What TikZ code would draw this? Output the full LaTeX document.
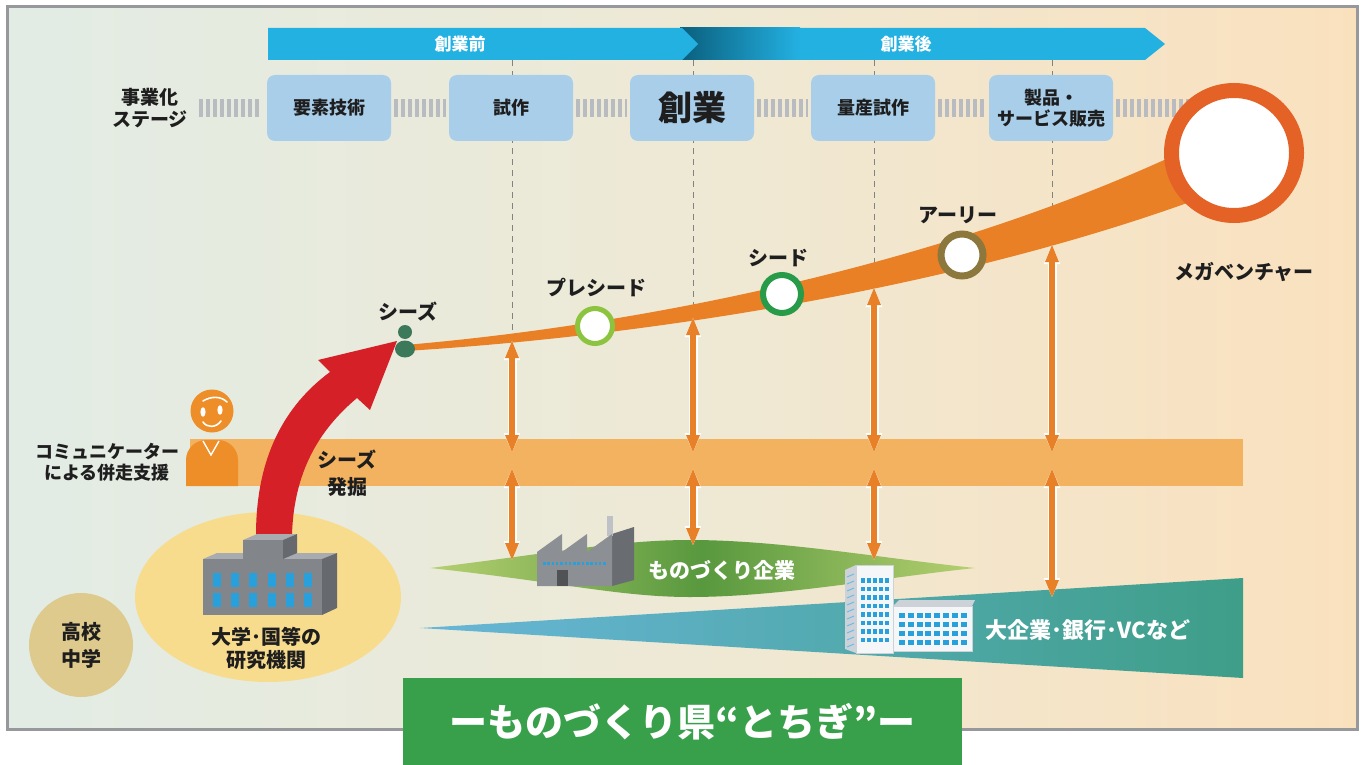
\documentclass[tikz,border=0pt]{standalone}
\usepackage{fontspec}
\setmainfont{Noto Sans CJK JP}
\usetikzlibrary{arrows.meta,shapes.geometric,calc}

\definecolor{bgL}{RGB}{226,236,229}
\definecolor{bgM}{RGB}{238,233,213}
\definecolor{bgR}{RGB}{250,225,190}
\definecolor{framegray}{RGB}{150,152,155}
\definecolor{ink}{RGB}{30,30,30}
\definecolor{phasecyan}{RGB}{35,177,226}
\definecolor{phasedark}{RGB}{10,95,125}
\definecolor{stageblue}{RGB}{168,206,234}
\definecolor{stripegray}{RGB}{184,188,192}
\definecolor{guidegray}{RGB}{130,130,130}
\definecolor{curveor}{RGB}{233,128,38}
\definecolor{megaor}{RGB}{228,98,38}
\definecolor{bandor}{RGB}{243,178,96}
\definecolor{personor}{RGB}{238,142,40}
\definecolor{arrowor}{RGB}{232,128,40}
\definecolor{ringlight}{RGB}{140,196,64}
\definecolor{ringgreen}{RGB}{40,155,72}
\definecolor{ringolive}{RGB}{140,120,60}
\definecolor{seedgreen}{RGB}{60,120,90}
\definecolor{lensL}{RGB}{182,208,112}
\definecolor{lensM}{RGB}{88,152,62}
\definecolor{wedgeL}{RGB}{104,182,216}
\definecolor{wedgeR}{RGB}{62,158,136}
\definecolor{uniyellow}{RGB}{248,220,142}
\definecolor{schooltan}{RGB}{222,202,140}
\definecolor{redarrow}{RGB}{214,32,40}
\definecolor{bldfront}{RGB}{130,133,137}
\definecolor{bldside}{RGB}{102,105,109}
\definecolor{bldtop}{RGB}{168,171,175}
\definecolor{factfront}{RGB}{140,143,147}
\definecolor{factside}{RGB}{105,108,112}
\definecolor{factlight}{RGB}{190,193,197}
\definecolor{factdark}{RGB}{80,82,86}
\definecolor{winblue}{RGB}{40,160,220}
\definecolor{officewhite}{RGB}{245,246,248}
\definecolor{officeside}{RGB}{205,210,216}
\definecolor{bannergreen}{RGB}{56,160,74}

\begin{document}
\begin{tikzpicture}[x=1pt,y=-1pt,
  stagebox/.style={fill=stageblue, rounded corners=8pt, minimum width=124pt,
    minimum height=66pt, inner sep=2pt, align=center, text=ink,
    font=\bfseries\fontsize{18}{21}\selectfont},
  stripe/.style={draw=stripegray, line width=18pt, dash pattern=on 4pt off 3pt},
  guide/.style={draw=guidegray, line width=0.9pt, dash pattern=on 6pt off 5pt},
  lbl/.style={text=ink, align=center, font=\bfseries\fontsize{20}{24}\selectfont},
  ontext/.style={text=white, font=\bfseries\fontsize{21}{25}\selectfont},
  phasetext/.style={text=white, font=\bfseries\fontsize{17}{20}\selectfont},
  ring/.style={circle, fill=white, inner sep=0pt},
  linkback/.style={draw=white, line width=9pt,
    {Triangle[length=19pt,width=16pt,line width=2pt]}-{Triangle[length=19pt,width=16pt,line width=2pt]}},
  link/.style={draw=arrowor, line width=6pt,
    {Triangle[length=17pt,width=14pt,line width=0pt]}-{Triangle[length=17pt,width=14pt,line width=0pt]}}
]
\useasboundingbox (0,0) rectangle (1362,765);
\fill[white] (0,0) rectangle (1362,765);

% panel background and frame
\shade[left color=bgL, right color=bgR, middle color=bgM] (7,7) rectangle (1357,729);
\draw[framegray, line width=3pt] (7,7) rectangle (1357,729);

% phase arrow: before / after founding
\fill[phasecyan] (680,28) -- (1145,28) -- (1165,44) -- (1145,60) -- (680,60) -- cycle;
\shade[left color=phasedark, right color=phasecyan] (680,28) rectangle (800,60);
\fill[phasecyan] (268,28) -- (682,28) -- (698,44) -- (682,60) -- (268,60) -- cycle;
\node[phasetext] (before) at (460,44) {創業前};
\node[phasetext] (after) at (906,44) {創業後};

% vertical guides
\draw[guide] (512,60) -- (512,334);
\draw[guide] (693,60) -- (693,306);
\draw[guide] (874,60) -- (874,266);
\draw[guide] (1052,60) -- (1052,210);

% stage row
\node[lbl, font=\bfseries\fontsize{19}{22}\selectfont] (stagelbl) at (150,108) {事業化\\ステージ};
\node[stagebox] (s1) at (329,108) {要素技術};
\node[stagebox] (s2) at (511,108) {試作};
\node[stagebox, font=\bfseries\fontsize{34}{36}\selectfont] (s3) at (692,108) {創業};
\node[stagebox] (s4) at (873,108) {量産試作};
\node[stagebox] (s5) at (1051,108) {製品・\\サービス販売};
\coordinate (st0) at (199,108);
\coordinate (st6) at (1190,108);
\draw[stripe] (st0) -- ([xshift=-5pt]s1.west);
\draw[stripe] ([xshift=3pt]s1.east) -- ([xshift=-3pt]s2.west);
\draw[stripe] ([xshift=3pt]s2.east) -- ([xshift=-3pt]s3.west);
\draw[stripe] ([xshift=3pt]s3.east) -- ([xshift=-3pt]s4.west);
\draw[stripe] ([xshift=3pt]s4.east) -- ([xshift=-3pt]s5.west);
\draw[stripe] ([xshift=3pt]s5.east) -- (st6);

% support band
\fill[bandor] (190,439) rectangle (1243,486);
\node[lbl, font=\bfseries\fontsize{20}{27}\selectfont] (dig) at (347,473) {シーズ\\発掘};

% communicator figure
\fill[personor] (186,486) -- (186,460) .. controls (186,449) and (195,440) .. (206,440)
  -- (218,440) .. controls (229,440) and (238,449) .. (238,460) -- (238,486) -- cycle;
\node[circle, fill=personor, minimum size=43pt, inner sep=0pt] (head) at (212,411) {};
\fill[white] (203,412) ellipse [x radius=2.6pt, y radius=4.8pt];
\fill[white] (220,410) ellipse [x radius=2.6pt, y radius=4.8pt];
\draw[white, line width=1.6pt, line cap=round] (203,422) .. controls (207,428) and (216,428) .. (221,421);
\draw[white, line width=1.6pt, line cap=round] (203,401) .. controls (211,396) and (221,396) .. (227,402);
\draw[white, line width=1.4pt] (203,441) -- (211,455) -- (219,441);
\node[lbl, font=\bfseries\fontsize{18}{21}\selectfont] (comm) at (107,462) {コミュニケーター\\による併走支援};

% growth curve, widening towards the mega venture
\fill[curveor] (405,345) .. controls (650,324) and (950,262) .. (1190,148)
  -- (1190,202) .. controls (950,288) and (650,336) .. (405,351) -- cycle;

% seeds figure
\node[circle, fill=seedgreen, minimum size=14pt, inner sep=0pt] (seedhead) at (405,332) {};
\node[ellipse, fill=seedgreen, minimum width=20pt, minimum height=17pt, inner sep=0pt] (seedbody) at (405,349) {};
\node[lbl] (seedlbl) at (408,312) {シーズ};

% stage milestones
\node[ring, draw=ringlight, line width=5pt, minimum size=35pt] (preseed) at (595,326) {};
\node[ring, draw=ringgreen, line width=6pt, minimum size=38pt] (seed) at (782,294) {};
\node[ring, draw=ringolive, line width=7pt, minimum size=42pt] (early) at (962,255) {};
\node[ring, draw=megaor, line width=15pt, minimum size=125pt] (mega) at (1234,153) {};
\node[lbl] (preseedlbl) at (596,288) {プレシード};
\node[lbl] (seedlbl2) at (778,258) {シード};
\node[lbl] (earlylbl) at (958,215) {アーリー};
\node[lbl] (megalbl) at (1244,272) {メガベンチャー};

% manufacturing companies
\shade[left color=lensL, right color=lensL, middle color=lensM]
  (430,568) .. controls (560,552) and (620,540) .. (690,540)
  .. controls (780,540) and (880,558) .. (975,568)
  .. controls (880,578) and (780,597) .. (690,597)
  .. controls (620,597) and (560,582) .. cycle;
\node[ontext] (mono) at (722,570) {ものづくり企業};

% large companies, banks, VCs
\shade[left color=wedgeL, right color=wedgeR] (420,628) -- (1243,578) -- (1243,678) -- cycle;
\node[ontext, font=\bfseries\fontsize{22}{26}\selectfont] (corp) at (1088,630) {大企業･銀行･VCなど};

% factory
\fill[factside] (612,534) -- (634,527) -- (634,580) -- (612,586) -- cycle;
\fill[factlight] (607,516) rectangle (613,536);
\fill[factfront] (537,586) -- (537,552) -- (562,534) -- (562,552) -- (587,534) -- (587,552)
  -- (612,534) -- (612,586) -- cycle;
\draw[winblue, line width=3pt, dash pattern=on 2.5pt off 1.8pt] (543,563) -- (606,563);
\fill[factdark] (557,570) rectangle (568,586);

% office buildings
\fill[officeside] (845,570) -- (856,565) -- (856,653) -- (845,649) -- cycle;
\foreach \j in {0,...,10} \draw[winblue!70, line width=1pt] (847,{577+\j*7}) -- (854,{574+\j*7});
\fill[officewhite] (856,565) rectangle (893,653);
\draw[officeside, line width=0.6pt] (856,565) rectangle (893,653);
\foreach \i in {0,...,4} \foreach \j in {0,...,7}
  \fill[winblue] ({861+\i*6},{578+\j*8.5}) rectangle +(4,4.5);
\fill[officeside] (893,606) -- (899,600) -- (975,600) -- (972,606) -- cycle;
\fill[officewhite] (893,606) rectangle (972,651);
\draw[officeside, line width=0.6pt] (893,606) rectangle (972,651);
\foreach \i in {0,...,7} \foreach \j in {0,...,3}
  \fill[winblue] ({899+\i*8.8},{613+\j*9}) rectangle +(6,4.5);

% links between the curve, the support band and the partners
\foreach \k/\x/\ya/\yb in {1/512/341/560, 2/693/318/545, 3/874/288/560, 4/1052/245/597} {
  \coordinate (u\k) at (\x,\ya);
  \coordinate (m\k) at (\x,452);
  \coordinate (n\k) at (\x,469);
  \coordinate (d\k) at (\x,\yb);
  \draw[linkback] (u\k) -- (m\k);
  \draw[link] (u\k) -- (m\k);
  \draw[linkback] (n\k) -- (d\k);
  \draw[link] (n\k) -- (d\k);
}

% universities and research institutes
\node[ellipse, fill=uniyellow, minimum width=266pt, minimum height=170pt] (unizone) at (268,597) {};
\fill[redarrow] (256,535) .. controls (256,458) and (284,406) .. (330,372)
  -- (318,360) -- (397,341) -- (370,410) -- (357,398)
  .. controls (325,425) and (294,465) .. (292,535) -- cycle;
\fill[bldtop] (203,559) -- (217,553) -- (337,553) -- (322,559) -- cycle;
\fill[bldside] (322,559) -- (337,553) -- (337,608) -- (322,615) -- cycle;
\fill[bldfront] (203,559) rectangle (322,615);
\fill[bldtop] (243,540) -- (257,534) -- (297,534) -- (283,540) -- cycle;
\fill[bldside] (283,540) -- (297,534) -- (297,553) -- (283,559) -- cycle;
\fill[bldfront] (243,540) rectangle (283,559);
\foreach \i in {0,...,5} \foreach \j in {0,1}
  \fill[winblue] ({213+\i*18.2},{573+\j*20}) rectangle +(8,14);
\node[lbl, font=\bfseries\fontsize{20}{23}\selectfont] (unilbl) at (266,648) {大学･国等の\\研究機関};

% schools
\node[circle, fill=schooltan, minimum size=104pt, inner sep=0pt, lbl,
  font=\bfseries\fontsize{20}{27}\selectfont] (school) at (81,645) {高校\\中学};

% caption
\node[fill=bannergreen, text=white, minimum width=559pt, minimum height=87pt, inner sep=0pt,
  font=\bfseries\fontsize{38}{42}\selectfont] (banner) at (682.5,721.5) {ーものづくり県“とちぎ”ー};
\end{tikzpicture}
\end{document}
